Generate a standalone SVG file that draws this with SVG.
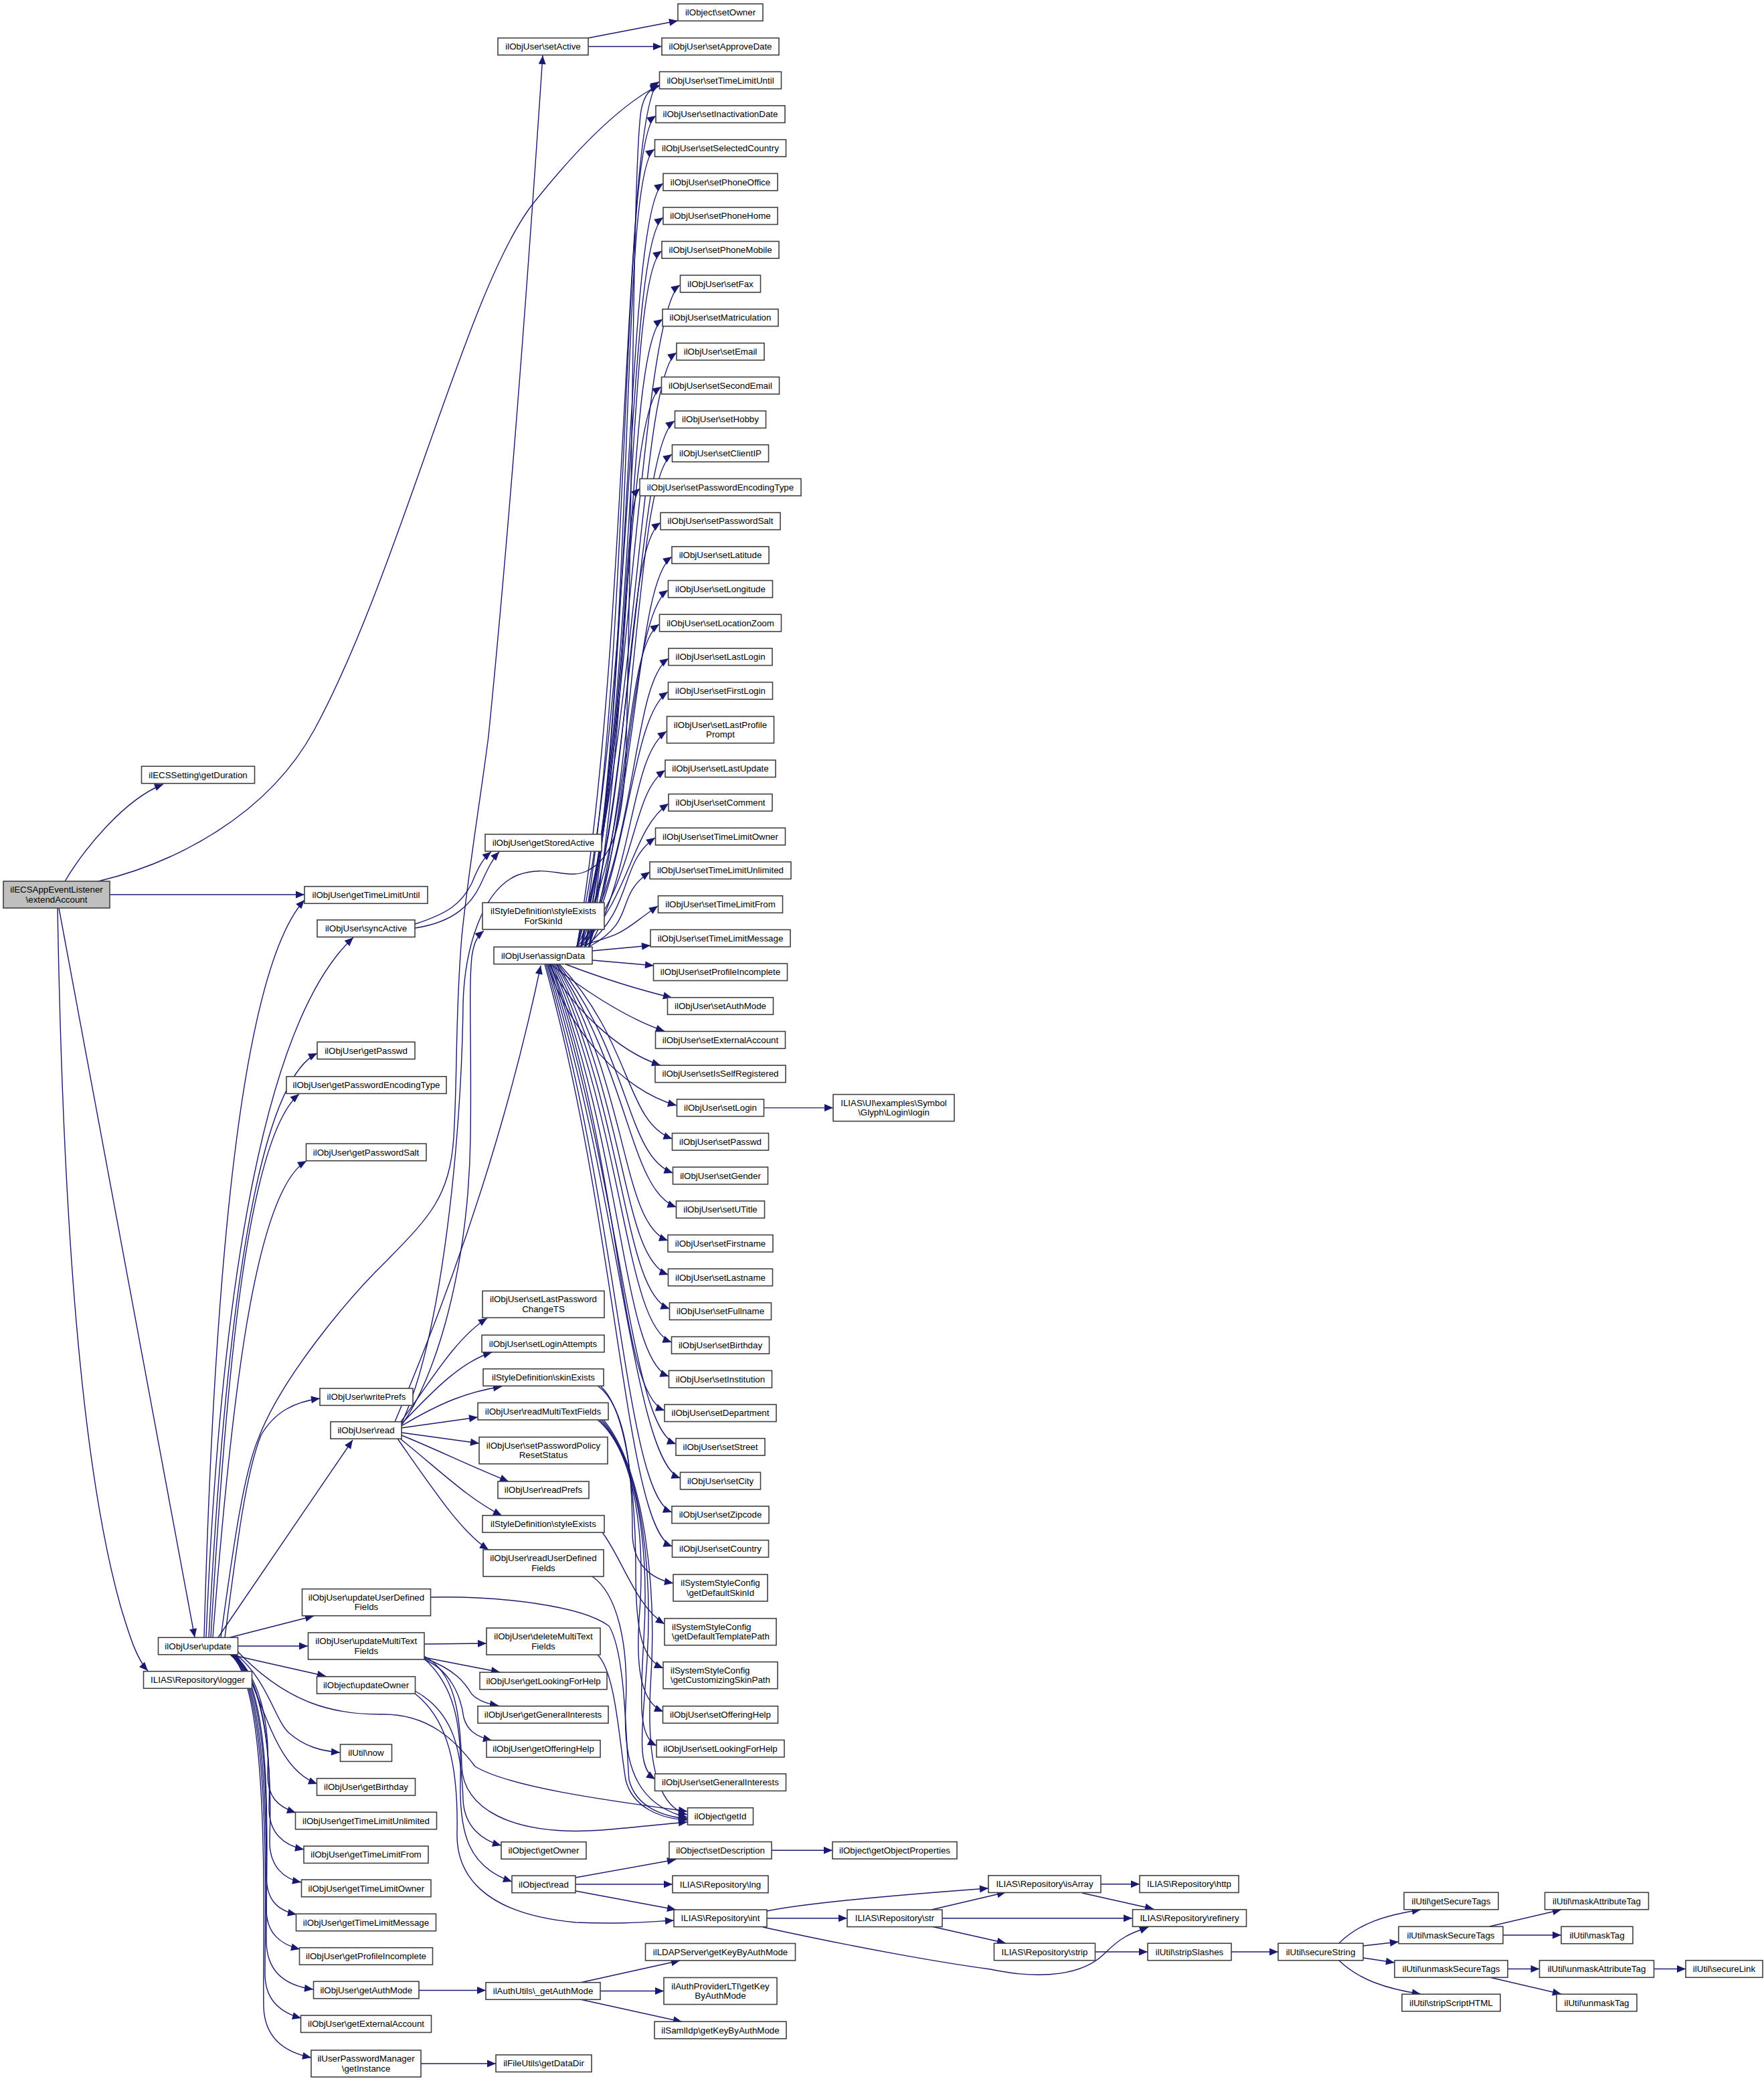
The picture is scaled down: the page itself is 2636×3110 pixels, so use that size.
<svg xmlns="http://www.w3.org/2000/svg" width="2636" height="3110" viewBox="0 0 2636 3110">
<defs>
<style>
.n rect{fill:#fff;stroke:#404040;stroke-width:1.6}
.r rect{fill:#bfbfbf}
text{font-family:"Liberation Sans",Arial,Helvetica,sans-serif;font-size:13.33px;fill:#000;text-anchor:middle}
.l text{text-anchor:start}
#edges path{fill:none;stroke:#191970;stroke-width:1.4;marker-end:url(#ah)}
</style>
<marker id="ah" markerUnits="userSpaceOnUse" markerWidth="14" markerHeight="12" refX="13" refY="5.5" orient="auto" overflow="visible"><path d="M0,0L13,5.5L0,11Z" fill="#191970"/></marker>
</defs>
<rect x="0" y="0" width="2636" height="3110" fill="#fff"/>
<g id="edges">
<path d="M97,1317 C125,1270 185,1195 244,1172"/>
<path d="M147,1317 C260,1290 400,1220 470,1090 C600,850 700,420 800,300 C880,200 940,150 985,127"/>
<path d="M164,1337 L455,1337"/>
<path d="M88,1357 L291,2447"/>
<path d="M86,1357 C92,1700 110,2150 180,2400 C195,2450 205,2480 221,2497"/>
<path d="M878,57 L1013,31"/>
<path d="M879,69.5 L989,69.5"/>
<path d="M330,2447 C350,2300 365,2200 386,2150 C420,2060 520,1940 578,1884 C640,1820 672,1790 678,1700 C684,1600 680,1520 690,1400 C700,1300 720,1180 730,1100 C760,800 790,400 811,83"/>
<path d="M305,2447 C320,1900 360,1450 455,1345"/>
<path d="M308,2447 C330,1900 400,1520 528,1401"/>
<path d="M312,2447 C335,2000 380,1620 474,1574"/>
<path d="M315,2447 C338,2050 370,1700 447,1635"/>
<path d="M318,2447 C345,2100 380,1780 458,1735"/>
<path d="M336,2447 C355,2300 368,2200 390,2145 C410,2110 440,2095 478,2090"/>
<path d="M326,2447 L527,2152"/>
<path d="M344,2447 L469,2415"/>
<path d="M355,2460 L460,2460"/>
<path d="M345,2473 L487,2505"/>
<path d="M352,2472 C400,2510 410,2570 432,2590 C455,2610 480,2617 508,2619"/>
<path d="M355,2468 C430,2547 501,2563 573,2562 C640,2562 680,2600 710,2640 C760,2670 900,2690 1027,2707"/>
<path d="M352,2472 C395,2530 405,2640 474,2666"/>
<path d="M351,2473 C398,2520 402,2600 400,2650 C399,2685 415,2700 442,2709"/>
<path d="M350,2473 C400,2520 404,2640 402,2700 C401,2740 425,2758 454,2764"/>
<path d="M349,2473 C402,2520 406,2660 403,2750 C402,2790 425,2808 450,2813"/>
<path d="M348,2473 C402,2520 400,2700 398,2800 C397,2840 415,2855 443,2861"/>
<path d="M347,2473 C404,2520 400,2750 398,2850 C397,2890 420,2906 448,2913"/>
<path d="M346,2473 C405,2520 398,2800 398,2900 C398,2950 430,2968 468,2973"/>
<path d="M345,2473 C406,2520 396,2850 396,2950 C396,2990 420,3008 450,3016"/>
<path d="M344,2473 C407,2520 392,2900 394,3000 C396,3050 430,3068 465,3075"/>
<path d="M620,1381 C670,1365 690,1350 705,1320 C715,1295 722,1283 734,1273"/>
<path d="M620,1387 C680,1378 705,1350 718,1322 C728,1300 735,1285 746,1273"/>
<path d="M600,2127 C660,2000 690,1700 692,1500 C694,1420 720,1330 773,1308 C820,1290 850,1318 880,1300 C920,1280 930,1220 935,1140 C945,800 945,250 958,165 C963,140 972,132 985,129"/>
<path d="M600,2130 C650,2060 700,1900 703,1700 C705,1560 700,1480 705,1430 C708,1410 712,1400 723,1391"/>
<path d="M590,2125 C660,1960 750,1720 808,1443"/>
<path d="M598,2126 C640,2070 680,2000 728,1970"/>
<path d="M600,2128 C650,2075 690,2035 735,2021"/>
<path d="M600,2131 C660,2095 700,2080 750,2072"/>
<path d="M600,2134 L714,2118"/>
<path d="M600,2141 L716,2157"/>
<path d="M600,2145 C650,2165 700,2190 760,2214"/>
<path d="M598,2150 C660,2200 700,2240 750,2265"/>
<path d="M594,2150 C650,2230 690,2290 730,2316"/>
<path d="M862,1415 C942,962 930,160 985,122"/>
<path d="M868,1415 C948,980 925,211 980,173"/>
<path d="M874,1415 C954,997 923,261 978,223"/>
<path d="M880,1415 C942,1015 936,312 991,274"/>
<path d="M862,1415 C948,1033 936,363 991,325"/>
<path d="M868,1415 C954,1050 934,413 989,375"/>
<path d="M874,1415 C942,1068 961,464 1016,426"/>
<path d="M880,1415 C948,1086 935,515 990,477"/>
<path d="M862,1415 C954,1104 956,565 1011,527"/>
<path d="M868,1415 C942,1121 933,616 988,578"/>
<path d="M874,1415 C948,1139 953,667 1008,629"/>
<path d="M880,1415 C954,1157 949,717 1004,679"/>
<path d="M862,1415 C942,1175 926,758 956,730"/>
<path d="M868,1415 C948,1192 932,819 987,781"/>
<path d="M874,1415 C954,1210 949,870 1004,832"/>
<path d="M880,1415 C942,1228 943,920 998,882"/>
<path d="M862,1415 C948,1246 930,971 985,933"/>
<path d="M868,1415 C954,1263 944,1022 999,984"/>
<path d="M874,1415 C942,1281 943,1072 998,1034"/>
<path d="M880,1415 C948,1301 941,1131 996,1093"/>
<path d="M862,1415 C954,1322 939,1189 994,1151"/>
<path d="M868,1415 C942,1340 944,1239 999,1201"/>
<path d="M874,1415 C948,1357 924,1290 979,1252"/>
<path d="M880,1415 C954,1375 916,1341 971,1303"/>
<path d="M862,1415 C942,1393 928,1392 983,1354"/>
<path d="M885,1421 L972,1413"/>
<path d="M885,1435 L977,1443"/>
<path d="M845,1441 C900,1462 950,1478 1004,1491"/>
<path d="M823,1441 C860,1470 930,1520 993,1541"/>
<path d="M821,1441 C850,1500 920,1570 987,1592"/>
<path d="M818,1441 C850,1540 930,1630 1011,1652"/>
<path d="M836,1441 C946,1560 934.5,1676 1004.5,1702"/>
<path d="M834,1441 C944,1583 935.5,1727 1005.5,1753"/>
<path d="M832,1441 C942,1606 940.5,1778 1010.5,1804"/>
<path d="M831,1441 C941,1629 928,1828 998,1854"/>
<path d="M829,1441 C939,1652 928.5,1879 998.5,1905"/>
<path d="M827,1441 C937,1674 930.5,1930 1000.5,1956"/>
<path d="M825,1441 C935,1697 933.5,1980 1003.5,2006"/>
<path d="M823,1441 C933,1720 929.5,2031 999.5,2057"/>
<path d="M822,1441 C932,1743 923,2082 993,2108"/>
<path d="M820,1441 C930,1766 940,2132 1010,2158"/>
<path d="M818,1441 C928,1788 946.5,2183 1016.5,2209"/>
<path d="M816,1441 C926,1811 934,2234 1004,2260"/>
<path d="M814,1441 C924,1834 934.5,2285 1004.5,2311"/>
<path d="M1142,1655.6 L1245,1655.6"/>
<path d="M893,2122 C950,2170 965,2300 955,2420 C950,2500 960,2545 991,2558"/>
<path d="M896,2122 C955,2180 970,2320 962,2450 C956,2550 955,2595 981,2609"/>
<path d="M899,2122 C960,2190 975,2350 967,2480 C960,2590 950,2640 979,2659"/>
<path d="M902,2122 C965,2200 982,2380 972,2520 C966,2640 985,2700 1027,2712"/>
<path d="M893,2071 C935,2100 945,2200 945,2290 C945,2330 965,2358 1006,2366"/>
<path d="M897,2071 C940,2110 950,2250 950,2350 C950,2440 960,2480 991,2493"/>
<path d="M900,2290 C930,2330 950,2400 993,2427"/>
<path d="M885,2356 C920,2380 940,2450 935,2550 C930,2650 960,2700 1027,2716"/>
<path d="M643,2387 C750,2385 870,2400 910,2430 C935,2470 935,2600 940,2660 C950,2700 990,2715 1027,2718"/>
<path d="M634,2457 L727,2456"/>
<path d="M634,2477 L747,2499"/>
<path d="M634,2478 C680,2495 695,2515 705,2532 C715,2542 728,2546 745,2549"/>
<path d="M634,2480 C670,2495 688,2530 693,2567 C698,2585 710,2595 735,2601"/>
<path d="M634,2475 C680,2500 688,2560 690,2640 C692,2700 760,2745 900,2735 C960,2730 1000,2725 1027,2723"/>
<path d="M634,2479 C680,2520 690,2580 688,2660 C686,2740 700,2790 765,2812"/>
<path d="M893,2473 C920,2500 925,2600 935,2660 C945,2700 985,2718 1027,2720"/>
<path d="M620,2527 C680,2560 690,2620 692,2690 C694,2730 720,2750 749,2758"/>
<path d="M620,2531 C670,2570 685,2640 683,2740 C682,2800 720,2860 860,2873 C930,2876 970,2872 1007,2870"/>
<path d="M860,2806 L1010,2779"/>
<path d="M860,2816 L1005,2816"/>
<path d="M860,2826 L1010,2854"/>
<path d="M1153,2765.3 L1244,2765.3"/>
<path d="M1146,2856 C1200,2845 1300,2835 1477,2822"/>
<path d="M1146,2866.8 L1266,2866.8"/>
<path d="M1140,2880 C1300,2915 1420,2935 1480,2943 C1560,2960 1620,2950 1650,2920 C1680,2890 1695,2888 1716,2880"/>
<path d="M1392,2854 L1503,2828"/>
<path d="M1408,2866.8 L1692,2866.8"/>
<path d="M1392,2879 L1503,2904"/>
<path d="M1645,2815.7 L1703,2815.7"/>
<path d="M1617,2829 L1724,2853"/>
<path d="M1636,2917 L1715,2917"/>
<path d="M1840,2917 L1910,2917"/>
<path d="M2001,2904 C2030,2875 2070,2862 2123,2854"/>
<path d="M2037,2908 L2090,2902"/>
<path d="M2037,2926 L2084,2933"/>
<path d="M2001,2930 C2030,2958 2070,2972 2123,2980"/>
<path d="M2226,2879 L2333,2854"/>
<path d="M2246,2892 L2333,2892"/>
<path d="M2253,2942.5 L2300.5,2942.5"/>
<path d="M2226,2955 L2333,2980"/>
<path d="M2471.5,2942.5 L2519,2942.5"/>
<path d="M626,2974.5 L726,2974.5"/>
<path d="M867,2963 L1016,2930"/>
<path d="M897,2975.5 L992,2975.5"/>
<path d="M867,2988 L1019,3021.5"/>
<path d="M629,3084 L741,3084"/>
</g>
<g id="n_root" class="n r"><rect x="5" y="1317" width="159" height="40"/><text x="84.5" y="1334">ilECSAppEventListener</text><text x="84.5" y="1348.5">\extendAccount</text></g>
<g id="n_getDuration" class="n"><rect x="211.5" y="1145.25" width="169" height="25.5"/><text x="296" y="1162.5">ilECSSetting\getDuration</text></g>
<g id="n_getTimeLimitUntil" class="n"><rect x="455" y="1324.75" width="184" height="25.5"/><text x="547" y="1342">ilObjUser\getTimeLimitUntil</text></g>
<g id="n_syncActive" class="n"><rect x="474" y="1374.85" width="146" height="25.5"/><text x="547" y="1392.1">ilObjUser\syncActive</text></g>
<g id="n_getPasswd" class="n"><rect x="474" y="1557.25" width="146" height="25.5"/><text x="547" y="1574.5">ilObjUser\getPasswd</text></g>
<g id="n_getPasswordEncodingType" class="n"><rect x="428" y="1608.85" width="239" height="25.5"/><text x="547.5" y="1626.1">ilObjUser\getPasswordEncodingType</text></g>
<g id="n_getPasswordSalt" class="n"><rect x="457.5" y="1709.25" width="179.5" height="25.5"/><text x="547" y="1726.5">ilObjUser\getPasswordSalt</text></g>
<g id="n_writePrefs" class="n"><rect x="478" y="2074.85" width="139" height="25.5"/><text x="547.5" y="2092.1">ilObjUser\writePrefs</text></g>
<g id="n_read" class="n"><rect x="494" y="2124.75" width="106" height="25.5"/><text x="547" y="2142">ilObjUser\read</text></g>
<g id="n_update" class="n"><rect x="236.5" y="2447.25" width="119" height="25.5"/><text x="296" y="2464.5">ilObjUser\update</text></g>
<g id="n_logger" class="n"><rect x="214.5" y="2497.75" width="162" height="25.5"/><text x="295.5" y="2515">ILIAS\Repository\logger</text></g>
<g id="n_updateUserDefinedFields" class="n"><rect x="451.5" y="2374.7" width="192" height="40"/><text x="547.5" y="2391.7">ilObjUser\updateUserDefined</text><text x="547.5" y="2406.2">Fields</text></g>
<g id="n_updateMultiTextFields" class="n"><rect x="460.5" y="2440" width="173.5" height="40"/><text x="547.3" y="2457">ilObjUser\updateMultiText</text><text x="547.3" y="2471.5">Fields</text></g>
<g id="n_updateOwner" class="n"><rect x="473.5" y="2505.65" width="147" height="25.5"/><text x="547" y="2522.9">ilObject\updateOwner</text></g>
<g id="n_now" class="n"><rect x="508.5" y="2606.95" width="77" height="25.5"/><text x="547" y="2624.2">ilUtil\now</text></g>
<g id="n_getBirthday" class="n"><rect x="473.5" y="2657.75" width="147" height="25.5"/><text x="547" y="2675">ilObjUser\getBirthday</text></g>
<g id="n_getTimeLimitUnlimited" class="n"><rect x="441.5" y="2708.25" width="211" height="25.5"/><text x="547" y="2725.5">ilObjUser\getTimeLimitUnlimited</text></g>
<g id="n_getTimeLimitFrom" class="n"><rect x="454" y="2758.95" width="186" height="25.5"/><text x="547" y="2776.2">ilObjUser\getTimeLimitFrom</text></g>
<g id="n_getTimeLimitOwner" class="n"><rect x="450.5" y="2809.25" width="193.5" height="25.5"/><text x="547.3" y="2826.5">ilObjUser\getTimeLimitOwner</text></g>
<g id="n_getTimeLimitMessage" class="n"><rect x="442.5" y="2860.25" width="209" height="25.5"/><text x="547" y="2877.5">ilObjUser\getTimeLimitMessage</text></g>
<g id="n_getProfileIncomplete" class="n"><rect x="447.5" y="2910.75" width="199" height="25.5"/><text x="547" y="2928">ilObjUser\getProfileIncomplete</text></g>
<g id="n_getAuthMode" class="n"><rect x="468.5" y="2961.25" width="157.5" height="25.5"/><text x="547.3" y="2978.5">ilObjUser\getAuthMode</text></g>
<g id="n_getExternalAccount" class="n"><rect x="449.5" y="3011.95" width="195" height="25.5"/><text x="547" y="3029.2">ilObjUser\getExternalAccount</text></g>
<g id="n_getInstance" class="n"><rect x="465" y="3064" width="164" height="40"/><text x="547" y="3081">ilUserPasswordManager</text><text x="547" y="3095.5">\getInstance</text></g>
<g id="n_setActive" class="n"><rect x="744" y="56.75" width="135" height="25.5"/><text x="811.5" y="74">ilObjUser\setActive</text></g>
<g id="n_setOwner" class="n"><rect x="1013" y="5.75" width="127" height="25.5"/><text x="1076.5" y="23">ilObject\setOwner</text></g>
<g id="n_setApproveDate" class="n"><rect x="989" y="56.75" width="175" height="25.5"/><text x="1076.5" y="74">ilObjUser\setApproveDate</text></g>
<g id="n_getStoredActive" class="n"><rect x="725" y="1246.75" width="174" height="25.5"/><text x="812" y="1264">ilObjUser\getStoredActive</text></g>
<g id="n_styleExistsForSkinId" class="n"><rect x="721" y="1349" width="182" height="40"/><text x="812" y="1366">ilStyleDefinition\styleExists</text><text x="812" y="1380.5">ForSkinId</text></g>
<g id="n_assignData" class="n"><rect x="738" y="1415.25" width="147" height="25.5"/><text x="811.5" y="1432.5">ilObjUser\assignData</text></g>
<g id="n_setLastPasswordChangeTS" class="n"><rect x="721" y="1929.3" width="182" height="40"/><text x="812" y="1946.3">ilObjUser\setLastPassword</text><text x="812" y="1960.8">ChangeTS</text></g>
<g id="n_setLoginAttempts" class="n"><rect x="720" y="1995.25" width="183" height="25.5"/><text x="811.5" y="2012.5">ilObjUser\setLoginAttempts</text></g>
<g id="n_skinExists" class="n"><rect x="722" y="2045.75" width="180" height="25.5"/><text x="812" y="2063">ilStyleDefinition\skinExists</text></g>
<g id="n_readMultiTextFields" class="n"><rect x="714" y="2096.45" width="195" height="25.5"/><text x="811.5" y="2113.7">ilObjUser\readMultiTextFields</text></g>
<g id="n_setPasswordPolicyResetStatus" class="n"><rect x="716" y="2147.7" width="192" height="40"/><text x="812" y="2164.7">ilObjUser\setPasswordPolicy</text><text x="812" y="2179.2">ResetStatus</text></g>
<g id="n_readPrefs" class="n"><rect x="744" y="2213.95" width="136" height="25.5"/><text x="812" y="2231.2">ilObjUser\readPrefs</text></g>
<g id="n_styleExists" class="n"><rect x="721" y="2264.75" width="182" height="25.5"/><text x="812" y="2282">ilStyleDefinition\styleExists</text></g>
<g id="n_readUserDefinedFields" class="n"><rect x="722" y="2316" width="180" height="40"/><text x="812" y="2333">ilObjUser\readUserDefined</text><text x="812" y="2347.5">Fields</text></g>
<g id="n_deleteMultiTextFields" class="n"><rect x="727" y="2433" width="170" height="40"/><text x="812" y="2450">ilObjUser\deleteMultiText</text><text x="812" y="2464.5">Fields</text></g>
<g id="n_getLookingForHelp" class="n"><rect x="717" y="2499.25" width="190" height="25.5"/><text x="812" y="2516.5">ilObjUser\getLookingForHelp</text></g>
<g id="n_getGeneralInterests" class="n"><rect x="714" y="2549.75" width="195" height="25.5"/><text x="811.5" y="2567">ilObjUser\getGeneralInterests</text></g>
<g id="n_getOfferingHelp" class="n"><rect x="727" y="2600.75" width="170" height="25.5"/><text x="812" y="2618">ilObjUser\getOfferingHelp</text></g>
<g id="n_getOwner" class="n"><rect x="749" y="2752.75" width="127" height="25.5"/><text x="812.5" y="2770">ilObject\getOwner</text></g>
<g id="n_objRead" class="n"><rect x="765" y="2803.25" width="95" height="25.5"/><text x="812.5" y="2820.5">ilObject\read</text></g>
<g id="n__getAuthMode" class="n"><rect x="726" y="2962.75" width="171" height="25.5"/><text x="811.5" y="2980">ilAuthUtils\_getAuthMode</text></g>
<g id="n_getDataDir" class="n"><rect x="741" y="3070.95" width="143" height="25.5"/><text x="812.5" y="3088.2">ilFileUtils\getDataDir</text></g>
<g id="n_setTimeLimitUntil" class="n"><rect x="985.5" y="107.25" width="182" height="25.5"/><text x="1076.5" y="124.5">ilObjUser\setTimeLimitUntil</text></g>
<g id="n_setInactivationDate" class="n"><rect x="980" y="157.95" width="193" height="25.5"/><text x="1076.5" y="175.2">ilObjUser\setInactivationDate</text></g>
<g id="n_setSelectedCountry" class="n"><rect x="978.5" y="208.65" width="196" height="25.5"/><text x="1076.5" y="225.9">ilObjUser\setSelectedCountry</text></g>
<g id="n_setPhoneOffice" class="n"><rect x="991" y="259.35" width="171" height="25.5"/><text x="1076.5" y="276.6">ilObjUser\setPhoneOffice</text></g>
<g id="n_setPhoneHome" class="n"><rect x="991" y="309.95" width="171" height="25.5"/><text x="1076.5" y="327.2">ilObjUser\setPhoneHome</text></g>
<g id="n_setPhoneMobile" class="n"><rect x="989" y="360.65" width="175" height="25.5"/><text x="1076.5" y="377.9">ilObjUser\setPhoneMobile</text></g>
<g id="n_setFax" class="n"><rect x="1016.5" y="411.35" width="120" height="25.5"/><text x="1076.5" y="428.6">ilObjUser\setFax</text></g>
<g id="n_setMatriculation" class="n"><rect x="990" y="462.05" width="173" height="25.5"/><text x="1076.5" y="479.3">ilObjUser\setMatriculation</text></g>
<g id="n_setEmail" class="n"><rect x="1011" y="512.75" width="131" height="25.5"/><text x="1076.5" y="530">ilObjUser\setEmail</text></g>
<g id="n_setSecondEmail" class="n"><rect x="988.5" y="563.45" width="176" height="25.5"/><text x="1076.5" y="580.7">ilObjUser\setSecondEmail</text></g>
<g id="n_setHobby" class="n"><rect x="1008.5" y="614.15" width="136" height="25.5"/><text x="1076.5" y="631.4">ilObjUser\setHobby</text></g>
<g id="n_setClientIP" class="n"><rect x="1004.5" y="664.75" width="144" height="25.5"/><text x="1076.5" y="682">ilObjUser\setClientIP</text></g>
<g id="n_setPasswordEncodingType" class="n"><rect x="956" y="715.45" width="241" height="25.5"/><text x="1076.5" y="732.7">ilObjUser\setPasswordEncodingType</text></g>
<g id="n_setPasswordSalt" class="n"><rect x="987" y="766.15" width="179" height="25.5"/><text x="1076.5" y="783.4">ilObjUser\setPasswordSalt</text></g>
<g id="n_setLatitude" class="n"><rect x="1004" y="816.85" width="145" height="25.5"/><text x="1076.5" y="834.1">ilObjUser\setLatitude</text></g>
<g id="n_setLongitude" class="n"><rect x="998.5" y="867.55" width="156" height="25.5"/><text x="1076.5" y="884.8">ilObjUser\setLongitude</text></g>
<g id="n_setLocationZoom" class="n"><rect x="985.5" y="918.25" width="182" height="25.5"/><text x="1076.5" y="935.5">ilObjUser\setLocationZoom</text></g>
<g id="n_setLastLogin" class="n"><rect x="999" y="968.95" width="155" height="25.5"/><text x="1076.5" y="986.2">ilObjUser\setLastLogin</text></g>
<g id="n_setFirstLogin" class="n"><rect x="998.5" y="1019.55" width="156" height="25.5"/><text x="1076.5" y="1036.8">ilObjUser\setFirstLogin</text></g>
<g id="n_setLastProfilePrompt" class="n"><rect x="996.5" y="1070.6" width="160" height="40"/><text x="1076.5" y="1087.6">ilObjUser\setLastProfile</text><text x="1076.5" y="1102.1">Prompt</text></g>
<g id="n_setLastUpdate" class="n"><rect x="994" y="1135.95" width="165" height="25.5"/><text x="1076.5" y="1153.2">ilObjUser\setLastUpdate</text></g>
<g id="n_setComment" class="n"><rect x="999" y="1186.65" width="155" height="25.5"/><text x="1076.5" y="1203.9">ilObjUser\setComment</text></g>
<g id="n_setTimeLimitOwner" class="n"><rect x="979.5" y="1237.35" width="194" height="25.5"/><text x="1076.5" y="1254.6">ilObjUser\setTimeLimitOwner</text></g>
<g id="n_setTimeLimitUnlimited" class="n"><rect x="971" y="1288.05" width="211" height="25.5"/><text x="1076.5" y="1305.3">ilObjUser\setTimeLimitUnlimited</text></g>
<g id="n_setTimeLimitFrom" class="n"><rect x="983.5" y="1338.75" width="186" height="25.5"/><text x="1076.5" y="1356">ilObjUser\setTimeLimitFrom</text></g>
<g id="n_setTimeLimitMessage" class="n"><rect x="972" y="1389.45" width="209" height="25.5"/><text x="1076.5" y="1406.7">ilObjUser\setTimeLimitMessage</text></g>
<g id="n_setProfileIncomplete" class="n"><rect x="976.5" y="1440.05" width="200" height="25.5"/><text x="1076.5" y="1457.3">ilObjUser\setProfileIncomplete</text></g>
<g id="n_setAuthMode" class="n"><rect x="997.5" y="1490.75" width="158" height="25.5"/><text x="1076.5" y="1508">ilObjUser\setAuthMode</text></g>
<g id="n_setExternalAccount" class="n"><rect x="979.5" y="1541.45" width="194" height="25.5"/><text x="1076.5" y="1558.7">ilObjUser\setExternalAccount</text></g>
<g id="n_setIsSelfRegistered" class="n"><rect x="979" y="1592.15" width="195" height="25.5"/><text x="1076.5" y="1609.4">ilObjUser\setIsSelfRegistered</text></g>
<g id="n_setLogin" class="n"><rect x="1011.5" y="1642.85" width="130" height="25.5"/><text x="1076.5" y="1660.1">ilObjUser\setLogin</text></g>
<g id="n_setPasswd" class="n"><rect x="1004.5" y="1693.55" width="144" height="25.5"/><text x="1076.5" y="1710.8">ilObjUser\setPasswd</text></g>
<g id="n_setGender" class="n"><rect x="1005.5" y="1744.25" width="142" height="25.5"/><text x="1076.5" y="1761.5">ilObjUser\setGender</text></g>
<g id="n_setUTitle" class="n"><rect x="1010.5" y="1794.85" width="132" height="25.5"/><text x="1076.5" y="1812.1">ilObjUser\setUTitle</text></g>
<g id="n_setFirstname" class="n"><rect x="998" y="1845.55" width="157" height="25.5"/><text x="1076.5" y="1862.8">ilObjUser\setFirstname</text></g>
<g id="n_setLastname" class="n"><rect x="998.5" y="1896.25" width="156" height="25.5"/><text x="1076.5" y="1913.5">ilObjUser\setLastname</text></g>
<g id="n_setFullname" class="n"><rect x="1000.5" y="1946.95" width="152" height="25.5"/><text x="1076.5" y="1964.2">ilObjUser\setFullname</text></g>
<g id="n_setBirthday" class="n"><rect x="1003.5" y="1997.65" width="146" height="25.5"/><text x="1076.5" y="2014.9">ilObjUser\setBirthday</text></g>
<g id="n_setInstitution" class="n"><rect x="999.5" y="2048.35" width="154" height="25.5"/><text x="1076.5" y="2065.6">ilObjUser\setInstitution</text></g>
<g id="n_setDepartment" class="n"><rect x="993" y="2099.05" width="167" height="25.5"/><text x="1076.5" y="2116.3">ilObjUser\setDepartment</text></g>
<g id="n_setStreet" class="n"><rect x="1010" y="2149.65" width="133" height="25.5"/><text x="1076.5" y="2166.9">ilObjUser\setStreet</text></g>
<g id="n_setCity" class="n"><rect x="1016.5" y="2200.35" width="120" height="25.5"/><text x="1076.5" y="2217.6">ilObjUser\setCity</text></g>
<g id="n_setZipcode" class="n"><rect x="1004" y="2251.05" width="145" height="25.5"/><text x="1076.5" y="2268.3">ilObjUser\setZipcode</text></g>
<g id="n_setCountry" class="n"><rect x="1004.5" y="2301.75" width="144" height="25.5"/><text x="1076.5" y="2319">ilObjUser\setCountry</text></g>
<g id="n_getDefaultSkinId" class="n"><rect x="1006" y="2353" width="141" height="40"/><text x="1076.5" y="2370">ilSystemStyleConfig</text><text x="1076.5" y="2384.5">\getDefaultSkinId</text></g>
<g id="n_getDefaultTemplatePath" class="n l"><rect x="993" y="2418.7" width="167" height="40"/><text x="1004" y="2435.7">ilSystemStyleConfig</text><text x="1004" y="2450.2">\getDefaultTemplatePath</text></g>
<g id="n_getCustomizingSkinPath" class="n l"><rect x="991" y="2483.7" width="171" height="40"/><text x="1002" y="2500.7">ilSystemStyleConfig</text><text x="1002" y="2515.2">\getCustomizingSkinPath</text></g>
<g id="n_setOfferingHelp" class="n"><rect x="990.5" y="2549.75" width="172" height="25.5"/><text x="1076.5" y="2567">ilObjUser\setOfferingHelp</text></g>
<g id="n_setLookingForHelp" class="n"><rect x="981" y="2600.45" width="191" height="25.5"/><text x="1076.5" y="2617.7">ilObjUser\setLookingForHelp</text></g>
<g id="n_setGeneralInterests" class="n"><rect x="978.5" y="2650.95" width="196" height="25.5"/><text x="1076.5" y="2668.2">ilObjUser\setGeneralInterests</text></g>
<g id="n_getId" class="n"><rect x="1027.5" y="2701.75" width="98" height="25.5"/><text x="1076.5" y="2719">ilObject\getId</text></g>
<g id="n_setDescription" class="n"><rect x="1000" y="2752.55" width="153" height="25.5"/><text x="1076.5" y="2769.8">ilObject\setDescription</text></g>
<g id="n_lng" class="n"><rect x="1005" y="2803.25" width="143" height="25.5"/><text x="1076.5" y="2820.5">ILIAS\Repository\lng</text></g>
<g id="n_int" class="n"><rect x="1007" y="2854.05" width="139" height="25.5"/><text x="1076.5" y="2871.3">ILIAS\Repository\int</text></g>
<g id="n_ldap" class="n"><rect x="964.5" y="2904.45" width="224" height="25.5"/><text x="1076.5" y="2921.7">ilLDAPServer\getKeyByAuthMode</text></g>
<g id="n_lti" class="n"><rect x="992" y="2955.5" width="169" height="40"/><text x="1076.5" y="2972.5">ilAuthProviderLTI\getKey</text><text x="1076.5" y="2987">ByAuthMode</text></g>
<g id="n_saml" class="n"><rect x="978" y="3021.25" width="197" height="25.5"/><text x="1076.5" y="3038.5">ilSamlIdp\getKeyByAuthMode</text></g>
<g id="n_glyphLogin" class="n"><rect x="1245" y="1635.6" width="181" height="40"/><text x="1335.5" y="1652.6">ILIAS\UI\examples\Symbol</text><text x="1335.5" y="1667.1">\Glyph\Login\login</text></g>
<g id="n_getObjectProperties" class="n"><rect x="1244" y="2752.55" width="186" height="25.5"/><text x="1337" y="2769.8">ilObject\getObjectProperties</text></g>
<g id="n_str" class="n"><rect x="1266" y="2854.05" width="142" height="25.5"/><text x="1337" y="2871.3">ILIAS\Repository\str</text></g>
<g id="n_isArray" class="n"><rect x="1477" y="2802.95" width="168" height="25.5"/><text x="1561" y="2820.2">ILIAS\Repository\isArray</text></g>
<g id="n_http" class="n"><rect x="1703" y="2802.95" width="148" height="25.5"/><text x="1777" y="2820.2">ILIAS\Repository\http</text></g>
<g id="n_refinery" class="n"><rect x="1692.5" y="2853.75" width="170" height="25.5"/><text x="1777.5" y="2871">ILIAS\Repository\refinery</text></g>
<g id="n_strip" class="n"><rect x="1485.5" y="2904.25" width="151" height="25.5"/><text x="1561" y="2921.5">ILIAS\Repository\strip</text></g>
<g id="n_stripSlashes" class="n"><rect x="1715" y="2904.25" width="125" height="25.5"/><text x="1777.5" y="2921.5">ilUtil\stripSlashes</text></g>
<g id="n_secureString" class="n"><rect x="1910" y="2904.25" width="127" height="25.5"/><text x="1973.5" y="2921.5">ilUtil\secureString</text></g>
<g id="n_getSecureTags" class="n"><rect x="2098" y="2828.25" width="141" height="25.5"/><text x="2168.5" y="2845.5">ilUtil\getSecureTags</text></g>
<g id="n_maskSecureTags" class="n"><rect x="2090" y="2879.25" width="156" height="25.5"/><text x="2168" y="2896.5">ilUtil\maskSecureTags</text></g>
<g id="n_unmaskSecureTags" class="n"><rect x="2084" y="2929.75" width="169" height="25.5"/><text x="2168.5" y="2947">ilUtil\unmaskSecureTags</text></g>
<g id="n_stripScriptHTML" class="n"><rect x="2095" y="2980.25" width="147" height="25.5"/><text x="2168.5" y="2997.5">ilUtil\stripScriptHTML</text></g>
<g id="n_maskAttributeTag" class="n"><rect x="2308.5" y="2828.25" width="155" height="25.5"/><text x="2386" y="2845.5">ilUtil\maskAttributeTag</text></g>
<g id="n_maskTag" class="n"><rect x="2333" y="2879.25" width="107" height="25.5"/><text x="2386.5" y="2896.5">ilUtil\maskTag</text></g>
<g id="n_unmaskAttributeTag" class="n"><rect x="2300.5" y="2929.75" width="171" height="25.5"/><text x="2386" y="2947">ilUtil\unmaskAttributeTag</text></g>
<g id="n_unmaskTag" class="n"><rect x="2326" y="2980.25" width="120" height="25.5"/><text x="2386" y="2997.5">ilUtil\unmaskTag</text></g>
<g id="n_secureLink" class="n"><rect x="2519" y="2929.75" width="115" height="25.5"/><text x="2576.5" y="2947">ilUtil\secureLink</text></g>
</svg>
